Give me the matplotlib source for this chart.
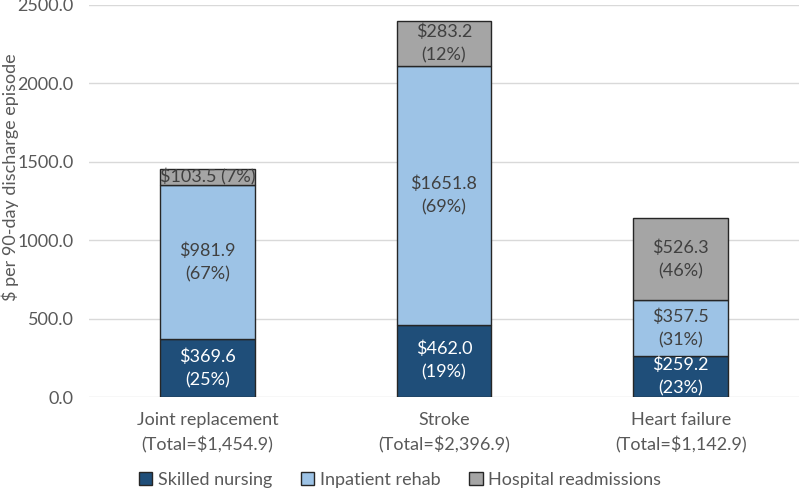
import matplotlib
matplotlib.use("Agg")
import matplotlib.pyplot as plt
import numpy as np
from matplotlib.patches import Patch

plt.rcParams["font.family"] = ["Lato", "DejaVu Sans"]

categories = ["Joint replacement", "Stroke", "Heart failure"]
totals = ["$1,454.9", "$2,396.9", "$1,142.9"]
series = ["Skilled nursing", "Inpatient rehab", "Hospital readmissions"]
skilled = [369.6, 462.0, 259.2]
rehab = [981.9, 1651.8, 357.5]
readmit = [103.5, 283.2, 526.3]
skilled_pct = [25, 19, 23]
rehab_pct = [67, 69, 31]
readmit_pct = [7, 12, 46]

COLORS = ["#1F4E79", "#9DC3E6", "#A5A5A5"]
TEXT_COLORS = ["white", "#404040", "#404040"]
TICK_COLOR = "#595959"

fig = plt.figure(figsize=(8, 4.94), dpi=100)
ax = fig.add_axes([89 / 800, 97 / 494, 710 / 800, 392 / 494])

x = np.arange(len(categories))
bottom = np.zeros(len(categories))
values = [skilled, rehab, readmit]
pcts = [skilled_pct, rehab_pct, readmit_pct]

for i, (vals, pc) in enumerate(zip(values, pcts)):
    vals = np.array(vals)
    ax.bar(x, vals, bottom=bottom, width=0.4, color=COLORS[i],
           edgecolor="#262626", linewidth=1, zorder=3)
    for j, (v, p) in enumerate(zip(vals, pc)):
        # small segment gets one-line label
        label = f"${v:.1f} ({p}%)" if v < 150 else f"${v:.1f}\n({p}%)"
        ax.text(x[j], bottom[j] + v / 2, label, ha="center", va="center",
                fontsize=13, color=TEXT_COLORS[i], linespacing=1.55, zorder=4)
    bottom += vals

ax.set_xlim(-0.5, len(categories) - 0.5)
ax.set_ylim(0, 2500)
ax.set_yticks(np.arange(0, 2501, 500))
ax.set_yticklabels([f"{t:.1f}" for t in np.arange(0, 2501, 500)])
ax.set_xticks(x)
ax.set_xticklabels([f"{c}\n(Total={t})" for c, t in zip(categories, totals)],
                   linespacing=1.6)
ax.tick_params(axis="both", length=0, colors=TICK_COLOR, labelsize=13)
ax.tick_params(axis="y", pad=11)
ax.tick_params(axis="x", pad=11)
ax.grid(axis="y", color="#D9D9D9", linewidth=1, zorder=0)
for s in ax.spines.values():
    s.set_visible(False)

ax.set_ylabel("$ per 90-day discharge episode", fontsize=13, color=TICK_COLOR)
ax.yaxis.set_label_coords(-70 / 710, 0.56)

handles = [Patch(facecolor=c, edgecolor="#262626", linewidth=1) for c in COLORS]
fig.legend(handles, series, loc="center", bbox_to_anchor=(0.5, 14 / 494),
           ncol=3, frameon=False, fontsize=13, handlelength=0.75,
           handleheight=0.75, handletextpad=0.3, columnspacing=1.6,
           labelcolor=TICK_COLOR)

fig.savefig("out.png", dpi=100)
